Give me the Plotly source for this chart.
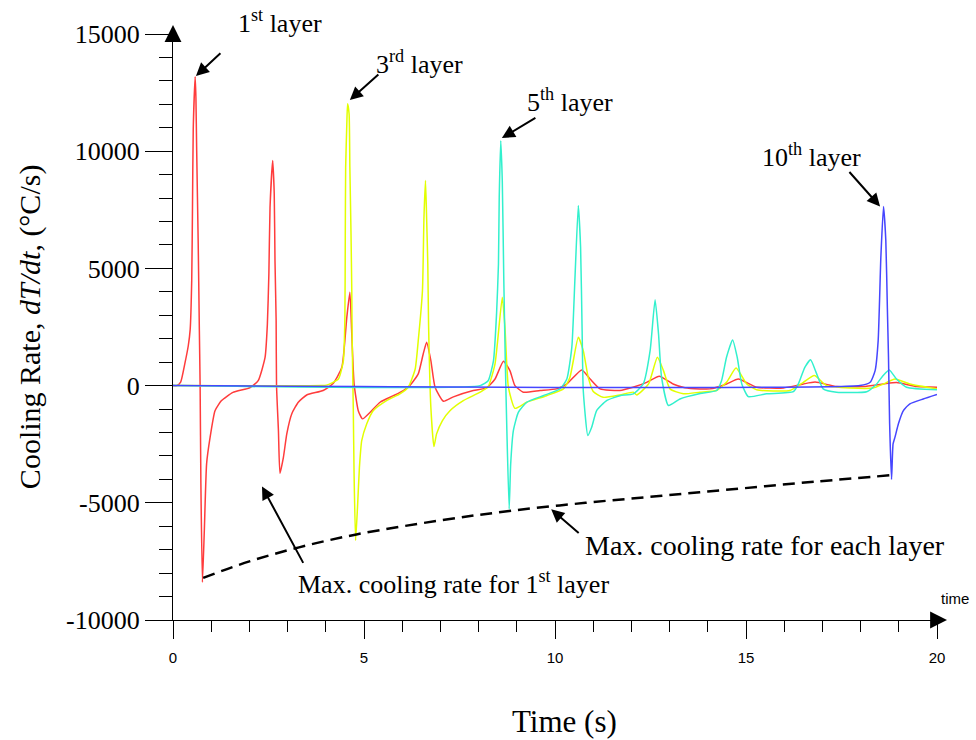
import plotly.graph_objects as go

# ---- cooling-rate histories (time in s, dT/dt in degC/s) ----
t_layer1 = [0.0, 0.1, 0.2, 0.31, 0.40, 0.45, 0.49, 0.51, 0.53, 0.58, 0.60, 0.62, 0.66, 0.69, 0.71,
            0.73, 0.77, 0.82, 0.88, 0.97, 1.10, 1.27, 1.57, 2.02, 2.23, 2.41, 2.47, 2.51, 2.54, 2.61,
            2.65, 2.67, 2.70, 2.71, 2.76, 2.80, 2.89, 2.98, 3.11, 3.28, 3.50, 3.93, 4.19, 4.42, 4.55,
            4.63, 4.68, 4.74, 4.85, 4.96, 5.16, 5.42, 5.77, 6.03, 6.20, 6.42, 6.55, 6.64, 6.75, 6.86,
            7.08, 7.34, 7.86, 8.21, 8.43, 8.65, 8.82, 8.95, 9.17, 9.61, 10.04, 10.31, 10.70, 10.92,
            11.18, 11.70, 12.04, 12.40, 12.73, 13.09, 13.40, 13.79, 14.06, 14.49, 14.80, 15.28, 15.98,
            16.50, 16.81, 17.37, 18.07, 18.60, 18.94, 19.47, 20.0]
rate_layer1 = [0, 0, 150, 940, 1700, 2400, 4480, 7550, 10960, 13180, 12290, 10025, 6060, 2350, 0,
               -4180, -8390, -6190, -3330, -2220, -1070, -640, -290, -85, 210, 1200, 2600, 4780, 7600, 9600,
               8190, 5330, 2770, 0, -1920, -3740, -3060, -2050, -1200, -710, -400, -210, 85, 780, 2910,
               3980, 2200, 85, -1070, -1420, -1140, -710, -430, -210, 0, 500, 1350, 1850, 1070, -70,
               -670, -480, -210, -100, 280, 1040, 640, 0, -280, -210, -140, 70, 670, 280,
               -140, -210, -70, 140, 400, 70, -90, -140, -140, 70, 280, -70, -100,
               70, 150, -40, -40, 70, 130, -40, -70]

t_layer3 = [0.0, 3.90, 4.02, 4.33, 4.46, 4.50, 4.51, 4.52, 4.55, 4.57, 4.61, 4.63, 4.66, 4.68, 4.69,
            4.72, 4.74, 4.78, 4.83, 4.88, 4.94, 5.07, 5.24, 5.59, 5.94, 6.16, 6.34, 6.42, 6.53, 6.57,
            6.61, 6.64, 6.67, 6.69, 6.75, 6.83, 6.90, 7.05, 7.25, 7.60, 8.04, 8.25, 8.43, 8.62, 8.69,
            8.78, 8.95, 9.26, 9.78, 10.22, 10.39, 10.61, 10.74, 10.87, 11.00, 11.26, 11.70, 12.05, 12.14,
            12.45, 12.68, 12.84, 13.01, 13.36, 13.79, 14.23, 14.49, 14.74, 15.02, 15.28, 16.15, 16.50,
            16.79, 17.11, 17.72, 18.33, 18.60, 18.90, 19.29, 20.0]
rate_layer3 = [0, 0, 20, 280, 1070, 2910, 6400, 9310, 11160, 12020, 11590, 9310, 6470, 4050, 1990,
               -1000, -3750, -6610, -5190, -3490, -2350, -1640, -1070, -640, -350, -70, 710, 1920, 4050, 7180,
               8750, 7110, 5190, 2630, -920, -2600, -2060, -1500, -1070, -640, -280, -40, 930, 3770, 2490,
               -70, -970, -710, -430, -140, 350, 2060, 1490, 350, -250, -500, -400, -280, -400,
               70, 1210, 640, -140, -350, -280, -210, 140, 750, 70, -180, -210, 140,
               430, 0, -100, -100, 70, 280, 70, -140]

t_layer5 = [0.0, 8.04, 8.25, 8.39, 8.47, 8.52, 8.54, 8.58, 8.62, 8.66, 8.70, 8.74, 8.80, 8.84, 8.91,
            9.04, 9.26, 9.69, 10.13, 10.31, 10.44, 10.52, 10.61, 10.67, 10.71, 10.74, 10.86, 10.96, 11.09,
            11.35, 11.70, 12.05, 12.31, 12.49, 12.62, 12.71, 12.79, 12.97, 13.27, 13.80, 14.23, 14.36,
            14.49, 14.65, 14.77, 14.89, 15.06, 15.54, 16.24, 16.37, 16.54, 16.69, 16.85, 17.02, 17.37,
            18.16, 18.42, 18.59, 18.75, 18.94, 19.20, 20.0]
rate_layer5 = [0, 0, 210, 1070, 3060, 5190, 8030, 10450, 8750, 4480, 930, -1920, -5260, -3340, -1920,
               -1140, -710, -430, -140, 280, 1630, 4480, 7680, 5900, 2350, -210, -2130, -1780, -1070,
               -640, -430, -350, 70, 1490, 3660, 2210, 350, -850, -570, -340, -210, 210,
               1210, 1950, 1210, 70, -470, -350, -260, 70, 780, 1100, 500, -140, -280,
               -260, 70, 430, 670, 280, -70, -180]

t_layer10 = [0.0, 17.98, 18.25, 18.38, 18.46, 18.53, 18.60, 18.66, 18.70, 18.73, 18.76, 18.81, 18.85,
             18.90, 18.99, 19.12, 19.29, 19.64, 20.0]
rate_layer10 = [0, 0, 140, 640, 1920, 5470, 7640, 6190, 3340, 1210, -1630, -4010, -2490,
                -2200, -1630, -1070, -780, -570, -380]

# envelope of the peak cooling rate reached by each layer
t_envelope = [0.79, 2.0, 3.3, 4.8, 7.0, 8.8, 10.8, 12.8, 14.8, 16.8, 18.82]
rate_envelope = [-8200, -7500, -6900, -6350, -5750, -5350, -5000, -4700, -4400, -4100, -3820]

y_tickvals = [-10000, -5000, 0, 5000, 10000, 15000]
y_ticktext = ["-10000", "-5000", "0", "5000", "10000", "15000"]
x_tickvals = [0, 5, 10, 15, 20]

SERIF = "Liberation Serif"
SANS = "Liberation Sans"

fig = go.Figure()
series = [
    (t_layer1, rate_layer1, "rgb(255,60,60)"),
    (t_layer3, rate_layer3, "rgb(226,255,0)"),
    (t_layer5, rate_layer5, "rgb(50,240,205)"),
    (t_layer10, rate_layer10, "rgb(70,70,255)"),
]
for tx, ry, col in series:
    fig.add_trace(go.Scatter(x=tx, y=ry, mode="lines",
                             line=dict(color=col, width=1.5, shape="spline", smoothing=0.5),
                             showlegend=False, hoverinfo="skip"))

fig.add_trace(go.Scatter(x=t_envelope, y=rate_envelope, mode="lines",
                         line=dict(color="black", width=2.5, dash="12px,7px", shape="spline"),
                         showlegend=False, hoverinfo="skip"))

annotations = []
# axis-end arrowheads (paper coordinates)
annotations.append(dict(x=0, y=1.0154, xref="paper", yref="paper", ax=0, ay=14, text="",
                        showarrow=True, arrowhead=2, arrowsize=2.6, arrowwidth=1.3, arrowcolor="black"))
annotations.append(dict(x=1.0131, y=0, xref="paper", yref="paper", ax=-14, ay=0, text="",
                        showarrow=True, arrowhead=2, arrowsize=2.6, arrowwidth=1.3, arrowcolor="black"))

# pointer arrows (tip in data units, tail offset in px)
pointers = [
    (0.60, 13210, 26, -24),
    (4.63, 12180, 30, -27),
    (8.61, 10560, 35, -21),
    (18.51, 7640, -32, -36),
    (2.33, -4300, 42, 78),
    (9.90, -5280, 29, 25),
]
for px, py, dx, dy in pointers:
    annotations.append(dict(x=px, y=py, xref="x", yref="y", ax=dx, ay=dy, text="", showarrow=True,
                            arrowhead=2, arrowsize=1.3, arrowwidth=2, arrowcolor="black"))

labels = [
    (0.140, 1.0205, "1<sup>st</sup> layer", 26),
    (0.322, 0.952, "3<sup>rd</sup> layer", 26),
    (0.520, 0.887, "5<sup>th</sup> layer", 26),
    (0.836, 0.7935, "10<sup>th</sup> layer", 26),
    (0.3665, 0.0648, "Max. cooling rate for 1<sup>st</sup> layer", 26),
    (0.775, 0.1263, "Max. cooling rate for each layer", 28),
]
for lx, ly, txt, fs in labels:
    annotations.append(dict(x=lx, y=ly, xref="paper", yref="paper", text=txt, showarrow=False,
                            xanchor="center", yanchor="middle",
                            font=dict(family=SERIF, size=fs, color="black")))

# axis titles
annotations.append(dict(x=-0.187, y=0.5, xref="paper", yref="paper", textangle=-90,
                        text="Cooling Rate, <i>dT/dt</i>, (°C/s)", showarrow=False,
                        xanchor="center", yanchor="middle",
                        font=dict(family=SERIF, size=30, color="black")))
annotations.append(dict(x=0.512, y=-0.174, xref="paper", yref="paper", text="Time (s)",
                        showarrow=False, xanchor="center", yanchor="middle",
                        font=dict(family=SERIF, size=31, color="black")))
annotations.append(dict(x=1.0236, y=0.0375, xref="paper", yref="paper", text="time",
                        showarrow=False, xanchor="center", yanchor="middle",
                        font=dict(family=SANS, size=15, color="black")))

fig.update_layout(
    width=976, height=740, autosize=False,
    margin=dict(l=173, r=39, t=34, b=120),
    paper_bgcolor="white", plot_bgcolor="white",
    showlegend=False,
    annotations=annotations,
    xaxis=dict(range=[0, 20], showgrid=False, zeroline=False, showline=True,
               linecolor="black", linewidth=1.3, ticks="outside", ticklen=18, tickwidth=1,
               tickcolor="black", tickmode="array", tickvals=x_tickvals,
               ticklabelstandoff=6,
               tickfont=dict(family=SANS, size=15, color="black"),
               minor=dict(dtick=1, tick0=0, ticks="outside", ticklen=11, tickwidth=1,
                          tickcolor="black", showgrid=False)),
    yaxis=dict(range=[-10000, 15000], showgrid=False, zeroline=False, showline=True,
               linecolor="black", linewidth=1.3, ticks="outside", ticklen=27, tickwidth=1,
               tickcolor="black", tickmode="array", tickvals=y_tickvals, ticktext=y_ticktext,
               tickfont=dict(family=SERIF, size=26, color="black"),
               minor=dict(dtick=1000, tick0=0, ticks="outside", ticklen=13, tickwidth=1,
                          tickcolor="black", showgrid=False)),
)

fig.write_html("out.html")
